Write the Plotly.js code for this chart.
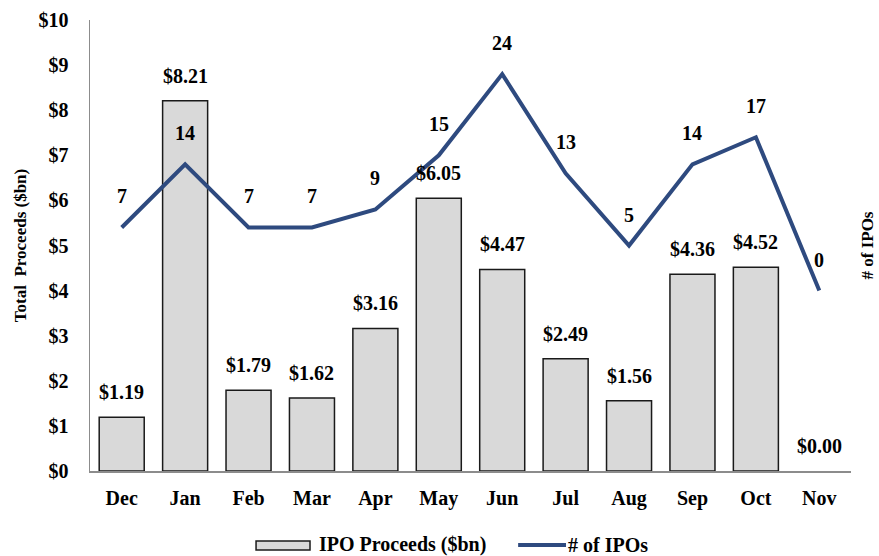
<!DOCTYPE html>
<html>
<head>
<meta charset="utf-8">
<script src="https://cdn.plot.ly/plotly-3.0.1.min.js"></script>
<style>html,body{margin:0;padding:0;background:#fff;}#chart{width:879px;height:556px;}</style>
</head>
<body>
<div id="chart"></div>
<script>
const months = ["Dec","Jan","Feb","Mar","Apr","May","Jun","Jul","Aug","Sep","Oct","Nov"];
const proceeds = [1.19, 8.21, 1.79, 1.62, 3.16, 6.05, 4.47, 2.49, 1.56, 4.36, 4.52, 0.00];
const ipoCounts = [7, 14, 7, 7, 9, 15, 24, 13, 5, 14, 17, 0];
const yTickVals = [0,1,2,3,4,5,6,7,8,9,10];
const seriesNames = ["IPO Proceeds ($bn)", "# of IPOs"];

const FONT = "Liberation Serif";
const lineColor = "#2E4A7F";
const barFill = "#D9D9D9";
const barEdge = "#1a1a1a";

const traces = [
  {
    type: "bar", x: months, y: proceeds, name: seriesNames[0],
    marker: {color: barFill, line: {color: barEdge, width: proceeds.map(v => v > 0 ? 1.5 : 0)}},
    hoverinfo: "none", showlegend: false
  },
  {
    type: "scatter", mode: "lines", x: months, y: ipoCounts, yaxis: "y2",
    name: seriesNames[1], line: {color: lineColor, width: 4}, hoverinfo: "none", showlegend: false
  }
];

const annotations = [];
months.forEach((m, i) => {
  annotations.push({
    x: m, y: proceeds[i], xref: "x", yref: "y", showarrow: false,
    text: "<b>$" + proceeds[i].toFixed(2) + "</b>", yshift: 25,
    font: {family: FONT, size: 20, color: "#000"}
  });
  annotations.push({
    x: m, y: ipoCounts[i], xref: "x", yref: "y2", showarrow: false,
    text: "<b>" + ipoCounts[i] + "</b>", yshift: 31,
    font: {family: FONT, size: 20, color: "#000"}
  });
});

// custom legend (paper coords: plot area x 90..851, y 20..471)
annotations.push({xref: "paper", yref: "paper", x: 0.2983, y: -0.164, xanchor: "left", yanchor: "middle",
  showarrow: false, text: "<b>" + seriesNames[0] + "</b>", font: {family: FONT, size: 20, color: "#000"}});
annotations.push({xref: "paper", yref: "paper", x: 0.6255, y: -0.164, xanchor: "left", yanchor: "middle",
  showarrow: false, text: "<b>" + seriesNames[1] + "</b>", font: {family: FONT, size: 20, color: "#000"}});
const shapes = [
  {type: "rect", xref: "paper", yref: "paper", x0: 0.2182, x1: 0.2891, y0: -0.1552, y1: -0.1752,
   fillcolor: barFill, line: {color: barEdge, width: 1.5}},
  {type: "line", xref: "paper", yref: "paper", x0: 0.5626, x1: 0.6255, y0: -0.164, y1: -0.164,
   line: {color: lineColor, width: 4}}
];

const layout = {
  width: 879, height: 556,
  margin: {l: 90, r: 28, t: 20, b: 85},
  paper_bgcolor: "#fff", plot_bgcolor: "#fff",
  font: {family: FONT, size: 20, color: "#000"},
  bargap: 0.29,
  showlegend: false,
  xaxis: {
    type: "category", showline: true, linecolor: "#8c8c8c", linewidth: 1.5,
    ticks: "", showgrid: false, zeroline: false,
    tickvals: months, ticktext: months.map(m => "<b>" + m + "</b>"),
    tickfont: {family: FONT, size: 20, color: "#000"},
    ticklabelstandoff: 8, automargin: false
  },
  yaxis: {
    range: [0, 10], tickvals: yTickVals, ticktext: yTickVals.map(v => "<b>$" + v + "</b>"),
    showline: true, linecolor: "#8c8c8c", linewidth: 1.5, ticks: "", showgrid: false, zeroline: false,
    tickfont: {family: FONT, size: 20, color: "#000"}, ticklabelstandoff: 16, automargin: false,
    title: {text: "<b>Total  Proceeds ($bn)</b>", font: {family: FONT, size: 17, color: "#000"}, standoff: 7}
  },
  yaxis2: {
    range: [-20, 30], overlaying: "y", side: "right", showticklabels: false,
    showgrid: false, zeroline: false, showline: false, ticks: "", automargin: false,
    title: {text: "<b># of IPOs</b>", font: {family: FONT, size: 17, color: "#000"}, standoff: 10}
  },
  annotations: annotations,
  shapes: shapes
};

Plotly.newPlot("chart", traces, layout, {displayModeBar: false, staticPlot: true});
</script>
</body>
</html>
